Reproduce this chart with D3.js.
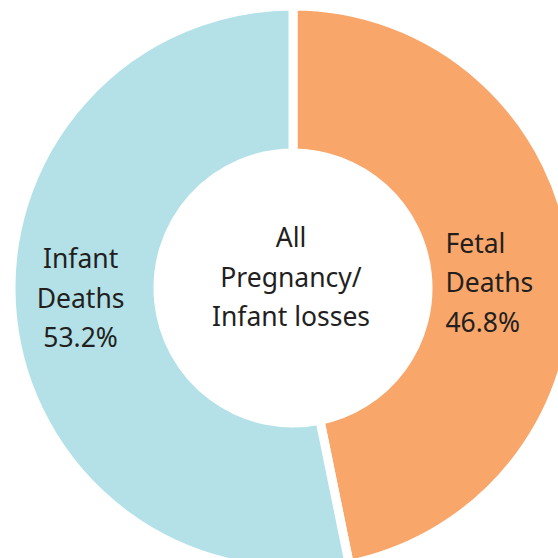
<!DOCTYPE html>
<html>
<head>
    <meta charset="utf-8">
    <title>Pregnancy / Infant losses</title>
    <style>
        body { margin: 0; background: #fff; }
        text { font-family: "Noto Sans", "Open Sans", sans-serif; fill: #231f20; }
    </style>
</head>
<body>
    <script src="https://cdnjs.cloudflare.com/ajax/libs/d3/7.9.0/d3.min.js"></script>
    <script>

        const categories = ["Fetal Deaths", "Infant Deaths"];
        const shares = [46.8, 53.2];
        const labelLines = [["Fetal", "Deaths", "46.8%"], ["Infant", "Deaths", "53.2%"]];
        const centerLines = ["All", "Pregnancy/", "Infant losses"];
        const colors = ["#f8a66a", "#b3e1e7"];

        const width = 558;
        const height = 558;
        const cx = 293, cy = 288;
        const outer = 282, inner = 135;

        const data = categories.map((c, i) => ({name: c, value: shares[i], lines: labelLines[i], color: colors[i]}));

        const svg = d3.select("body")
            .append("svg")
            .attr("width", width)
            .attr("height", height);

        const g = svg.append("g")
            .attr("transform", `translate(${cx},${cy})`);

        const pie = d3.pie()
            .sort(null)
            .value(d => d.value);

        const arc = d3.arc()
            .innerRadius(inner)
            .outerRadius(outer);

        const labelArc = d3.arc()
            .innerRadius(139)
            .outerRadius(278);

        const arcs = pie(data);

        g.selectAll(".slice")
            .data(arcs)
            .enter()
            .append("path")
            .attr("class", "slice")
            .attr("d", arc)
            .attr("fill", d => d.data.color)
            .attr("stroke", "#fff")
            .attr("stroke-width", 9);

        const lineH = 39.5;
        const fs = 26.5;

        // slice labels, fetal left-aligned, infant centred
        arcs.forEach((d, i) => {
            const [x, y] = labelArc.centroid(d);
            const t = g.append("text")
                .attr("font-size", fs)
                .attr("text-anchor", i === 0 ? "start" : "middle");
            d.data.lines.forEach((s, j) => {
                t.append("tspan")
                    .attr("x", i === 0 ? x - 55 : x - 5)
                    .attr("y", y + (j - 1) * lineH + (i === 0 ? 25 : -1))
                    .text(s);
            });
        });

        const ct = g.append("text")
            .attr("font-size", fs)
            .attr("text-anchor", "middle");
        centerLines.forEach((s, j) => {
            ct.append("tspan")
                .attr("x", -2)
                .attr("y", -41 + j * lineH)
                .text(s);
        });

    </script>
</body>
</html>
